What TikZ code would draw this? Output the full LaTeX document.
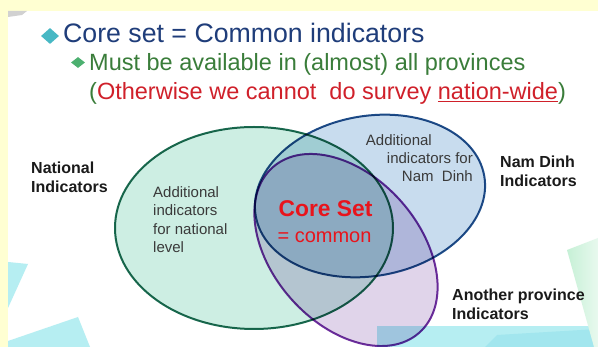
\documentclass[tikz,border=0pt]{standalone}
\usepackage{fontspec}
\setmainfont{Liberation Sans}
\usetikzlibrary{shapes.geometric}
\definecolor{pageyellow}{HTML}{FFFFD2}
\definecolor{titlenavy}{HTML}{1F3D7A}
\definecolor{subgreen}{HTML}{3A7D3A}
\definecolor{warnred}{HTML}{D0202A}
\definecolor{bulletteal}{HTML}{47B8C4}
\definecolor{bulletgreen}{HTML}{4CB070}
\definecolor{labelblack}{HTML}{1A1A1A}
\definecolor{notegray}{HTML}{3A3A3A}
\definecolor{corered}{HTML}{E8141C}
\definecolor{natfill}{HTML}{CDEEE3}
\definecolor{natline}{HTML}{1A6A50}
\definecolor{ndfill}{HTML}{C8DCEE}
\definecolor{ndline}{HTML}{1F4E8A}
\definecolor{apfill}{HTML}{E0D4EA}
\definecolor{apline}{HTML}{7030A0}
\definecolor{decocyan}{HTML}{B6EEF2}
\definecolor{decocyandark}{HTML}{A2E6EE}
\definecolor{decogreen}{HTML}{C6F0D6}
\tikzset{
  vennset/.style={ellipse, inner sep=0pt, line width=2pt},
  biglabel/.style={font=\fontsize{16}{19}\selectfont\bfseries, text=labelblack, align=left, inner sep=0pt},
  notelabel/.style={font=\fontsize{15}{18.3}\selectfont, text=notegray, inner sep=0pt},
}
\begin{document}
\begin{tikzpicture}[x=1pt,y=-1pt]
\useasboundingbox (0,0) rectangle (598,347);
\fill[pageyellow] (0,0) rectangle (598,347);
\fill[white] (8,11) rectangle (598,347);
% background decorations
\fill[black!18] (8,11) -- (27,11) -- (22,15) -- (8,17) -- cycle;
\fill[decocyan] (8,262) -- (28,264) -- (8,308) -- cycle;
\fill[decocyan] (8,341) -- (78,317) -- (90,347) -- (8,347) -- cycle;
\fill[decocyan] (377,326) rectangle (598,347);
\fill[decocyandark] (485,347) -- (497,335) -- (598,329) -- (598,347) -- cycle;
\shade[left color=decogreen, right color=decogreen!40] (567,250) -- (598,238) -- (598,347) -- (594,347) -- cycle;

% Venn sets
\begin{scope}[blend mode=multiply]
\node[vennset, fill=natfill, draw=natline, minimum width=278pt, minimum height=202pt] (nat) at (254,228) {};
\node[vennset, fill=ndfill, draw=ndline, minimum width=232pt, minimum height=160pt, rotate=10] (nd) at (370,196) {};
\node[vennset, fill=apfill, draw=apline, minimum width=221pt, minimum height=147pt, rotate=-48.5] (ap) at (346,250) {};
\end{scope}

% title lines
\node[diamond, fill=bulletteal, inner sep=0pt, minimum width=18pt, minimum height=16pt] (b1) at (50,36) {};
\node[anchor=base west, inner sep=0pt, text=titlenavy, font=\fontsize{26.7}{30}\selectfont] (t1) at (63,42.7) {Core set = Common indicators};
\node[diamond, fill=bulletgreen, inner sep=0pt, minimum width=14pt, minimum height=11pt] (b2) at (78,62.5) {};
\node[anchor=base west, inner sep=0pt, text=subgreen, font=\fontsize{23.5}{28}\selectfont] (t2) at (89,70.7) {Must be available in (almost) all provinces};
\node[anchor=base west, inner sep=0pt, font=\fontsize{23.5}{28}\selectfont] (t3) at (89,100) {\textcolor{subgreen}{(}\textcolor{warnred}{Otherwise we cannot~~do survey \underline{nation-wide}}\textcolor{subgreen}{)}};

% labels
\node[biglabel, anchor=west] (natlab) at (31,177.5) {National\\Indicators};
\node[biglabel, anchor=west] (ndlab) at (500,171) {Nam Dinh\\Indicators};
\node[biglabel, anchor=west] (aplab) at (452,304.5) {Another province\\Indicators};
\node[notelabel, anchor=west, align=left] (natnote) at (153,219.5) {Additional\\indicators\\for national\\level};
\node[notelabel, anchor=east, align=right] (ndnote) at (473,158) {Additional\hspace*{41pt}\\indicators for\\Nam~~Dinh};
\node[anchor=base, inner sep=0pt, text=corered, font=\fontsize{22.8}{26}\selectfont\bfseries] (core) at (325.5,217) {Core Set};
\node[anchor=base, inner sep=0pt, text=corered, font=\fontsize{20}{24}\selectfont] (common) at (324.5,242.7) {= common};
\end{tikzpicture}
\end{document}
